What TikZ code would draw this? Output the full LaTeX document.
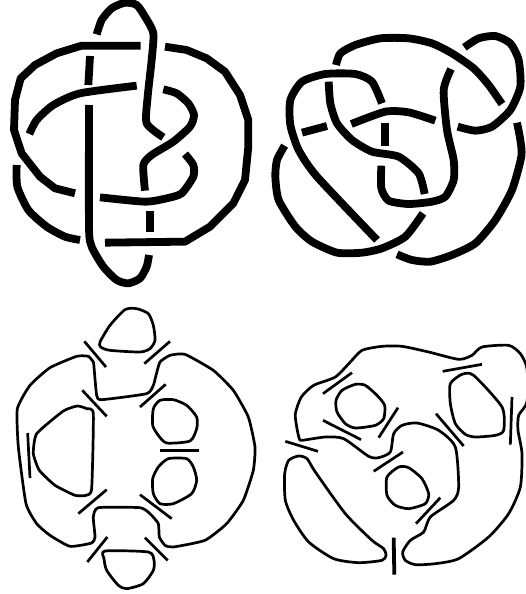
\documentclass[tikz,border=0pt]{standalone}
\usepackage{tikz}
\tikzset{
  strand/.style={line width=7.8pt,line join=round},
  rim/.style={line width=2.7pt,line join=round},
  twist/.style={line width=2.7pt},
}
\begin{document}
\begin{tikzpicture}[x=1pt,y=-1pt]
\useasboundingbox (0,0) rectangle (525,594);
\begin{scope}[scale=1/3]
\draw[strand] plot[smooth,tension=.4] coordinates{(290,103) (305,60) (335,25) (375,8) (410,15) (435,50) (460,100) (455,180) (443,290) (440,370) (490,412)};
\draw[strand] (422,137) -- (245,137) -- (170,160) -- (105,195) -- (62,235) -- (45,300) -- (42,390) -- (65,460) -- (120,530) -- (165,565) -- (225,580);
\draw[strand] (495,140) -- (560,150) -- (620,175) -- (675,215) -- (720,285) -- (745,360) -- (745,440) -- (735,540) -- (700,610) -- (630,680) -- (555,725) -- (315,728);
\draw[strand] plot[smooth,tension=.4] coordinates{(50,495) (52,560) (85,630) (140,680) (195,710) (240,720)};
\draw[strand] (270,168) -- (265,255); \draw[strand] (450,632) -- (450,697);
\draw[strand] plot[smooth,tension=.4] coordinates{(88,402) (110,360) (160,315) (240,280) (410,257)};
\draw[strand] plot[smooth,tension=.4] coordinates{(267,315) (267,680) (275,740) (310,800) (350,840) (385,850) (420,835) (440,800) (447,765)};
\draw[strand] plot[smooth,tension=.4] coordinates{(490,268) (530,280) (565,310) (582,345) (570,380) (520,425) (455,465) (430,495) (435,572)};
\draw[strand] plot[smooth,tension=.4] coordinates{(555,462) (580,495) (580,530) (545,580) (500,595) (435,605) (300,592)};
\end{scope}
\begin{scope}[shift={(262,0)},scale=1/3]
\draw[strand] plot[smooth,tension=.4] coordinates{(222,195) (235,160) (280,135) (355,115) (440,115) (510,130) (570,160) (635,205) (680,255) (720,312)};
\draw[strand] plot[smooth,tension=.4] coordinates{(607,142) (650,115) (700,108) (745,130) (770,180) (775,260) (745,330) (690,380) (640,392) (587,380)};
\draw[strand] plot[smooth,tension=.4] coordinates{(360,310) (330,245) (280,222) (190,222) (120,245) (85,300) (85,375) (110,450) (165,530) (345,720)};
\draw[strand] plot[smooth,tension=.4] coordinates{(200,245) (205,310) (225,370) (270,420) (330,455) (410,470) (470,520) (488,582)};
\draw[strand] (120,398) -- (195,378); \draw[strand] (370,370) -- (370,437);
\draw[strand] plot[smooth,tension=.4] coordinates{(268,372) (370,335) (440,337) (520,362)};
\draw[strand] plot[smooth,tension=.4] coordinates{(358,497) (358,565) (380,602) (440,612) (510,605) (550,590) (575,540) (575,480) (555,390) (545,270) (567,207)};
\draw[strand] plot[smooth,tension=.4] coordinates{(68,437) (45,480) (40,530) (50,600) (100,680) (150,725) (225,758) (300,758) (360,745) (430,710) (483,640)};
\draw[strand] plot[smooth,tension=.4] coordinates{(405,763) (450,780) (505,785) (570,765) (640,730) (700,660) (750,570) (778,470) (775,420) (765,368)};
\end{scope}
\begin{scope}[shift={(0,297)},scale=1/3]
\draw[rim] plot[smooth cycle,tension=.4] coordinates{(302,150) (300,135) (330,85) (375,38) (410,35) (445,50) (460,85) (465,130) (450,155) (420,165) (330,160)};
\draw[rim] plot[smooth cycle,tension=.3] coordinates{(265,178) (230,178) (150,212) (90,265) (52,335) (55,450) (78,620) (110,680) (150,715) (210,748) (275,738) (285,720) (280,660) (295,632) (420,632) (450,650) (475,680) (478,720) (495,745) (520,750) (615,730) (680,680) (730,610) (760,520) (765,450) (745,360) (700,280) (640,220) (555,172) (510,175) (480,195) (468,235) (460,265) (440,290) (305,308) (290,295) (282,210) (280,195)};
\draw[rim] plot[smooth cycle,tension=.3] coordinates{(232,327) (190,342) (110,410) (100,470) (118,520) (165,565) (225,595) (258,595) (275,575) (280,350) (260,335)};
\draw[rim] plot[smooth cycle,tension=.4] coordinates{(480,310) (520,308) (560,325) (590,360) (590,395) (570,432) (500,438) (475,415) (458,385) (460,335)};
\draw[rim] plot[smooth cycle,tension=.4] coordinates{(505,485) (560,485) (580,510) (590,550) (575,590) (520,620) (480,620) (460,590) (458,545) (475,510)};
\draw[rim] plot[smooth cycle,tension=.4] coordinates{(315,762) (445,765) (462,790) (460,820) (430,860) (380,875) (355,865) (320,820) (312,785)};
\draw[twist] (253,133) -- (318,210); \draw[twist] (510,133) -- (433,200);
\draw[twist] (247,280) -- (320,358); \draw[twist] (497,262) -- (420,330);
\draw[twist] (480,460) -- (598,460); \draw[twist] (83,408) -- (90,543);
\draw[twist] (320,578) -- (235,650); \draw[twist] (420,593) -- (515,665);
\draw[twist] (322,720) -- (262,795); \draw[twist] (435,722) -- (503,790);
\end{scope}
\begin{scope}[shift={(262,297)},scale=1/3]
\draw[rim] plot[smooth cycle,tension=.4] coordinates{(112,425) (105,395) (100,350) (118,300) (155,265) (220,240) (265,195) (300,160) (360,148) (420,148) (500,165) (590,187) (630,175) (660,150) (740,145) (775,170) (795,215) (795,315) (770,355) (768,400) (780,470) (775,570) (740,650) (680,720) (590,785) (520,800) (460,803) (430,790) (422,765) (445,730) (485,705) (505,660) (575,610) (590,570) (580,450) (530,400) (465,378) (420,385) (395,410) (385,465) (350,482) (320,478) (245,425) (190,420) (120,430)};
\draw[rim] plot[smooth cycle,tension=.4] coordinates{(280,262) (310,265) (345,295) (368,325) (365,365) (340,385) (280,393) (250,380) (225,345) (222,310) (240,280)};
\draw[rim] plot[smooth cycle,tension=.4] coordinates{(600,232) (635,235) (720,330) (725,400) (700,415) (640,420) (610,412) (580,380) (565,320) (565,260)};
\draw[rim] plot[smooth cycle,tension=.4] coordinates{(410,510) (440,512) (480,545) (500,590) (490,620) (440,635) (400,625) (375,595) (375,540)};
\draw[rim] plot[smooth cycle,tension=.4] coordinates{(110,477) (135,485) (160,525) (250,650) (330,730) (365,755) (372,775) (360,790) (290,797) (215,785) (140,735) (95,670) (70,610) (68,530) (80,490)};
\draw[twist] (270,227) -- (183,290); \draw[twist] (660,202) -- (542,223);
\draw[twist] (183,370) -- (297,428); \draw[twist] (408,332) -- (350,422);
\draw[twist] (522,350) -- (605,447); \draw[twist] (750,300) -- (745,443);
\draw[twist] (70,433) -- (168,463); \draw[twist] (423,465) -- (335,523);
\draw[twist] (535,602) -- (462,680); \draw[twist,line width=3.8pt] (395,722) -- (397,833);
\end{scope}
\end{tikzpicture}
\end{document}
